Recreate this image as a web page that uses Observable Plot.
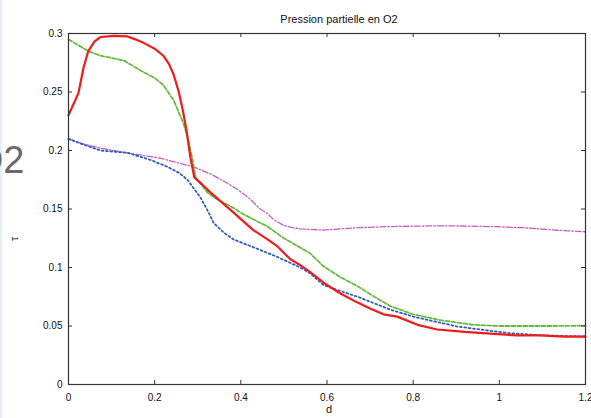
<!DOCTYPE html>
<html>
<head>
<meta charset="utf-8">
<script src="https://cdn.jsdelivr.net/npm/d3@7"></script>
<script src="https://cdn.jsdelivr.net/npm/@observablehq/plot@0.6"></script>
<style>
  html, body { margin: 0; padding: 0; background: #fff; }
  #chart { width: 591px; height: 418px; box-shadow: inset 2px 0 0 #e6eef7; }
</style>
</head>
<body>
<div id="chart"></div>
<script>
const titleText = "Pression partielle en O2";
const slideText = "O2";
const xLabel = "d";
const yLabel = "τ";
const xTicks = [0, 0.2, 0.4, 0.6, 0.8, 1, 1.2];
const yTicks = [0, 0.05, 0.1, 0.15, 0.2, 0.25, 0.3];

const redD = [0, 0.012, 0.023, 0.035, 0.046, 0.06, 0.074, 0.105, 0.137, 0.155, 0.174, 0.2, 0.22, 0.233, 0.244, 0.256, 0.265, 0.274, 0.283, 0.292, 0.31, 0.33, 0.38, 0.429, 0.462, 0.485, 0.515, 0.538, 0.561, 0.592, 0.63, 0.671, 0.7, 0.731, 0.763, 0.81, 0.856, 0.92, 0.979, 1.04, 1.095, 1.15, 1.2];
const redT = [0.230, 0.240, 0.249, 0.271, 0.285, 0.293, 0.297, 0.298, 0.2975, 0.295, 0.292, 0.287, 0.281, 0.274, 0.265, 0.250, 0.235, 0.217, 0.194, 0.177, 0.171, 0.164, 0.148, 0.132, 0.124, 0.118, 0.107, 0.102, 0.096, 0.087, 0.078, 0.070, 0.065, 0.060, 0.058, 0.051, 0.047, 0.045, 0.0435, 0.042, 0.042, 0.041, 0.041];

const greenD = [0, 0.046, 0.074, 0.128, 0.174, 0.2, 0.22, 0.244, 0.267, 0.278, 0.288, 0.295, 0.323, 0.346, 0.383, 0.399, 0.43, 0.462, 0.5, 0.538, 0.561, 0.592, 0.63, 0.671, 0.71, 0.747, 0.8, 0.863, 0.94, 1.0, 1.056, 1.12, 1.2];
const greenT = [0.295, 0.285, 0.281, 0.277, 0.267, 0.262, 0.256, 0.243, 0.223, 0.209, 0.192, 0.177, 0.164, 0.158, 0.151, 0.147, 0.141, 0.135, 0.125, 0.117, 0.112, 0.101, 0.092, 0.084, 0.075, 0.067, 0.060, 0.055, 0.051, 0.050, 0.050, 0.050, 0.0503];

const blueD = [0, 0.028, 0.074, 0.137, 0.19, 0.23, 0.256, 0.276, 0.29, 0.306, 0.318, 0.328, 0.337, 0.36, 0.383, 0.445, 0.485, 0.538, 0.561, 0.592, 0.63, 0.671, 0.747, 0.8, 0.903, 1.019, 1.1, 1.2];
const blueT = [0.210, 0.206, 0.200, 0.198, 0.192, 0.186, 0.181, 0.175, 0.168, 0.160, 0.152, 0.145, 0.138, 0.130, 0.124, 0.115, 0.109, 0.100, 0.095, 0.085, 0.080, 0.075, 0.064, 0.058, 0.0495, 0.044, 0.042, 0.041];

const magD = [0, 0.03, 0.074, 0.151, 0.213, 0.29, 0.33, 0.369, 0.395, 0.42, 0.445, 0.462, 0.476, 0.499, 0.52, 0.538, 0.592, 0.67, 0.747, 0.83, 0.903, 0.98, 1.056, 1.13, 1.2];
const magT = [0.210, 0.206, 0.202, 0.197, 0.1935, 0.186, 0.180, 0.172, 0.166, 0.159, 0.150, 0.146, 0.141, 0.136, 0.134, 0.133, 0.132, 0.134, 0.135, 0.1355, 0.1355, 0.135, 0.134, 0.132, 0.1305];

const toRows = (ds, ts) => ds.map((d, i) => ({d, t: ts[i]}));
const red = toRows(redD, redT);
const green = toRows(greenD, greenT);
const blue = toRows(blueD, blueT);
const mag = toRows(magD, magT);
const fmt = v => String(v);

const W = 591, H = 418, mL = 68, mR = 6, mT = 33, mB = 34;
const fw = W - mL - mR, fh = H - mT - mB, tk = 4;

const chart = Plot.plot({
  width: W, height: H,
  marginLeft: mL, marginRight: mR, marginTop: mT, marginBottom: mB,
  style: {fontFamily: "'Liberation Sans', Arial, sans-serif", fontSize: "10px", color: "#111", background: "transparent", overflow: "hidden"},
  x: {domain: [0, 1.2]},
  y: {domain: [0, 0.3]},
  marks: [
    Plot.line(mag, {x: "d", y: "t", stroke: "#c45cc4", strokeWidth: 1.3, strokeDasharray: "6,2,1.5,2"}),
    Plot.line(blue, {x: "d", y: "t", stroke: "#2f5cbf", strokeWidth: 1.8, strokeDasharray: "1.8,2.6"}),
    Plot.line(green, {x: "d", y: "t", stroke: "#66bb3c", strokeWidth: 1.8, strokeDasharray: "4,2"}),
    Plot.line(red, {x: "d", y: "t", stroke: "#ee1c1c", strokeWidth: 2.2}),
    Plot.frame({stroke: "#333", strokeWidth: 1.2}),
    Plot.ruleX(xTicks, {x: d => d, insetTop: fh - tk, stroke: "#333"}),
    Plot.ruleX(xTicks, {x: d => d, insetBottom: fh - tk, stroke: "#333"}),
    Plot.ruleY(yTicks, {y: d => d, insetRight: fw - tk, stroke: "#333"}),
    Plot.ruleY(yTicks, {y: d => d, insetLeft: fw - tk, stroke: "#333"}),
    Plot.axisX(xTicks, {tickSize: 0, tickPadding: 9, tickFormat: fmt, label: null}),
    Plot.axisY(yTicks, {tickSize: 0, tickPadding: 6, tickFormat: fmt, label: null}),
    Plot.text([titleText], {frameAnchor: "top", dy: -18, dx: 12, fontSize: 11, fill: "#111"}),
    Plot.text([xLabel], {frameAnchor: "bottom", dy: 28, dx: 2, fontSize: 11, fill: "#111"}),
    Plot.text([yLabel], {frameAnchor: "left", dx: -54, dy: 32, rotate: -90, fontSize: 11, fill: "#111"}),
    Plot.text([slideText], {frameAnchor: "top-left", dx: -44, dy: 113, textAnchor: "end", fontSize: 38, fill: "#6a6a6a", fontFamily: "'Liberation Sans', Arial, sans-serif"})
  ]
});
document.getElementById("chart").appendChild(chart);
</script>
</body>
</html>
